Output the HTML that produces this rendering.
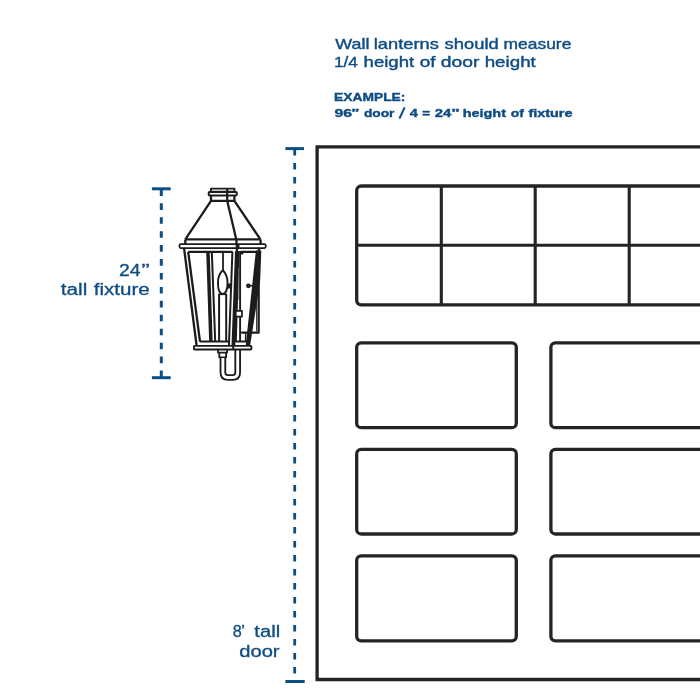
<!DOCTYPE html>
<html>
<head>
<meta charset="utf-8">
<style>
html,body{margin:0;padding:0;background:#fff;width:700px;height:700px;overflow:hidden;}
svg{display:block;will-change:transform;}
text{font-family:"Liberation Sans",sans-serif;}
</style>
</head>
<body>
<svg width="700" height="700" viewBox="0 0 700 700">
<rect width="700" height="700" fill="#fff"/>
<g fill="#0e4c84">
<text x="335.32" y="49.35" font-size="15.0" textLength="34.05" lengthAdjust="spacingAndGlyphs" stroke="#0e4c84" stroke-width="0.4">Wall</text>
<text x="373.77" y="49.35" font-size="15.0" textLength="65.09" lengthAdjust="spacingAndGlyphs" stroke="#0e4c84" stroke-width="0.4">lanterns</text>
<text x="444.59" y="49.35" font-size="15.0" textLength="54.20" lengthAdjust="spacingAndGlyphs" stroke="#0e4c84" stroke-width="0.4">should</text>
<text x="503.64" y="49.35" font-size="15.0" textLength="67.73" lengthAdjust="spacingAndGlyphs" stroke="#0e4c84" stroke-width="0.4">measure</text>
<text x="333.99" y="67.2" font-size="15.0" textLength="23.91" lengthAdjust="spacingAndGlyphs" stroke="#0e4c84" stroke-width="0.4">1/4</text>
<text x="363.61" y="67.2" font-size="15.0" textLength="50.52" lengthAdjust="spacingAndGlyphs" stroke="#0e4c84" stroke-width="0.4">height</text>
<text x="419.71" y="67.2" font-size="15.0" textLength="15.77" lengthAdjust="spacingAndGlyphs" stroke="#0e4c84" stroke-width="0.4">of</text>
<text x="440.89" y="67.2" font-size="15.0" textLength="38.63" lengthAdjust="spacingAndGlyphs" stroke="#0e4c84" stroke-width="0.4">door</text>
<text x="484.70" y="67.2" font-size="15.0" textLength="51.14" lengthAdjust="spacingAndGlyphs" stroke="#0e4c84" stroke-width="0.4">height</text>
<text x="334.08" y="101.4" font-size="11.7" font-weight="bold" textLength="71.35" lengthAdjust="spacingAndGlyphs" stroke="#0e4c84" stroke-width="0.4">EXAMPLE:</text>
<text x="334.45" y="116.8" font-size="11.7" font-weight="bold" textLength="17.51" lengthAdjust="spacingAndGlyphs" stroke="#0e4c84" stroke-width="0.4">96</text>
<text x="351.14" y="116.8" font-size="11.7" font-weight="bold" textLength="8.52" lengthAdjust="spacingAndGlyphs" stroke="#0e4c84" stroke-width="0.4">”</text>
<text x="363.94" y="116.8" font-size="11.7" font-weight="bold" textLength="30.47" lengthAdjust="spacingAndGlyphs" stroke="#0e4c84" stroke-width="0.4">door</text>
<text x="409.88" y="116.8" font-size="11.7" font-weight="bold" textLength="8.10" lengthAdjust="spacingAndGlyphs" stroke="#0e4c84" stroke-width="0.4">4</text>
<text x="422.15" y="116.8" font-size="11.7" font-weight="bold" textLength="7.80" lengthAdjust="spacingAndGlyphs" stroke="#0e4c84" stroke-width="0.4">=</text>
<text x="434.89" y="116.8" font-size="11.7" font-weight="bold" textLength="16.49" lengthAdjust="spacingAndGlyphs" stroke="#0e4c84" stroke-width="0.4">24</text>
<text x="450.98" y="116.8" font-size="11.7" font-weight="bold" textLength="8.95" lengthAdjust="spacingAndGlyphs" stroke="#0e4c84" stroke-width="0.4">”</text>
<text x="462.69" y="116.8" font-size="11.7" font-weight="bold" textLength="43.28" lengthAdjust="spacingAndGlyphs" stroke="#0e4c84" stroke-width="0.4">height</text>
<text x="510.66" y="116.8" font-size="11.7" font-weight="bold" textLength="13.12" lengthAdjust="spacingAndGlyphs" stroke="#0e4c84" stroke-width="0.4">of</text>
<text x="528.45" y="116.8" font-size="11.7" font-weight="bold" textLength="44.04" lengthAdjust="spacingAndGlyphs" stroke="#0e4c84" stroke-width="0.4">fixture</text>
<text x="119.08" y="275.7" font-size="16.0" textLength="21.54" lengthAdjust="spacingAndGlyphs" stroke="#0e4c84" stroke-width="0.3">24</text>
<text x="141.22" y="275.7" font-size="16.0" textLength="8.46" lengthAdjust="spacingAndGlyphs" stroke="#0e4c84" stroke-width="0.3">”</text>
<text x="60.84" y="295.4" font-size="16.0" textLength="26.50" lengthAdjust="spacingAndGlyphs" stroke="#0e4c84" stroke-width="0.3">tall</text>
<text x="93.76" y="295.4" font-size="16.0" textLength="56.01" lengthAdjust="spacingAndGlyphs" stroke="#0e4c84" stroke-width="0.3">fixture</text>
<text x="232.85" y="636.6" font-size="16.0" textLength="9.01" lengthAdjust="spacingAndGlyphs" stroke="#0e4c84" stroke-width="0.3">8</text>
<text x="241.11" y="636.6" font-size="16.0" textLength="4.07" lengthAdjust="spacingAndGlyphs" stroke="#0e4c84" stroke-width="0.3">’</text>
<text x="254.34" y="636.6" font-size="16.0" textLength="25.86" lengthAdjust="spacingAndGlyphs" stroke="#0e4c84" stroke-width="0.3">tall</text>
<text x="239.30" y="656.5" font-size="16.0" textLength="40.28" lengthAdjust="spacingAndGlyphs" stroke="#0e4c84" stroke-width="0.3">door</text>
<path d="M399.4 118.6 L404.6 107.4" stroke="#0e4c84" stroke-width="2.1" fill="none"/>
</g>
<g stroke="#0b4f87" fill="none">
<line x1="294.7" y1="148.9" x2="294.7" y2="681" stroke-width="2.8" stroke-dasharray="6.7 7.3"/>
<line x1="285.4" y1="148.6" x2="304" y2="148.6" stroke-width="3"/>
<line x1="285.4" y1="681.5" x2="304.7" y2="681.5" stroke-width="3"/>
<line x1="161.3" y1="189.4" x2="161.3" y2="377" stroke-width="3" stroke-dasharray="6.6 7.33"/>
<line x1="151.9" y1="188.8" x2="170.7" y2="188.8" stroke-width="3"/>
<line x1="151.9" y1="377.7" x2="170.7" y2="377.7" stroke-width="3"/>
</g>
<g stroke="#242424" fill="none" stroke-width="3.3">
<path d="M720 146.9 H317.1 V679.5 H720"/>
<rect x="356.7" y="186" width="400" height="118.8" rx="4.5"/>
<path d="M356.7 245.3 H720 M441.3 186 V304.8 M535.2 186 V304.8 M629.2 186 V304.8" stroke-width="3.1"/>
<rect x="356.7" y="342.8" width="159.6" height="84.9" rx="4.5"/>
<rect x="550.9" y="342.8" width="300" height="84.9" rx="4.5"/>
<rect x="356.7" y="449.4" width="159.6" height="84.6" rx="4.5"/>
<rect x="550.9" y="449.4" width="300" height="84.6" rx="4.5"/>
<rect x="356.7" y="555.8" width="159.6" height="85" rx="4.5"/>
<rect x="550.9" y="555.8" width="300" height="85" rx="4.5"/>
</g>
<g id="lantern" stroke="#1c1c1c" fill="none" stroke-width="2.3" stroke-linejoin="round">
<!-- cap -->
<rect x="211" y="188.6" width="23.4" height="3" stroke-width="1.9"/>
<rect x="208.7" y="192.1" width="28.1" height="3.3" rx="0.8" fill="#fff" stroke-width="2"/>
<path d="M211 195.6 V200.8 H234.4 V195.6"/>
<path d="M227.2 188.5 V200.8"/>
<!-- roof -->
<path d="M211 200.8 L185.3 239.4 M227.2 200.8 L236.3 239.4 M234.4 200.8 L260.4 239.4"/>
<path d="M185.3 239.4 H260.6 M185.3 239.4 V244 M260.6 239.4 V244 M236.5 239.4 V244"/>
<!-- flange -->
<rect x="179.5" y="244" width="86.2" height="4" rx="1.2" stroke-width="1.75"/>
<path d="M238.3 244 V248"/>
<!-- rail -->
<path d="M188.3 251.8 H232.6 M240.9 251.8 H259 V247.8"/>
<path d="M241 251.8 V253.6 H243.2" stroke-width="1.6"/>
<!-- left posts -->
<path d="M184 247.8 L196.6 345.5 M188.2 251.8 L200 341.6"/>
<!-- inner left frame -->
<path d="M207.95 251.5 L210.9 341.3" stroke-width="3.5"/>
<path d="M211.8 251.5 L215.2 341.3" stroke-width="2"/>
<!-- wick, flame, candle -->
<path d="M223 251.8 V270.5" stroke-width="1.8"/>
<path d="M222.8 270.2 C219.7 273,217.95 277.5,217.95 282.8 C217.95 289.5,219.9 293.9,222.8 293.9 C225.6 293.9,227.55 289.5,227.55 282.8 C227.55 277.5,225.8 273,222.8 270.2 Z" stroke-width="1.9"/>
<path d="M219.1 293.8 V341.3 M226.2 293.8 V341.3" stroke-width="2"/>
<path d="M219.1 294.3 H226.2" stroke-width="1.6"/>
<rect x="227.6" y="283.5" width="3.4" height="5" fill="#1c1c1c" stroke="none"/>
<!-- inner right frame -->
<path d="M232.4 251.8 L228.95 345.5" stroke-width="2"/>
<!-- corner post -->
<polygon points="235,251 239.4,251 236.8,341.3 235.3,341.3 235.3,345.5 231.5,345.5" fill="#1c1c1c" stroke="none"/>
<path d="M238.4 268 V300" stroke="#6a6a6a" stroke-width="0.7"/>
<path d="M236.9 244 L236.9 252" stroke-width="2.4"/>
<path d="M240.1 251 V341.3" stroke-width="1.9"/>
<!-- latch -->
<rect x="235.8" y="310.9" width="6.2" height="5.8" fill="#fff" stroke-width="1.7"/>
<!-- side face: right post + backplate -->
<path d="M258.75 280 V332.6 H241.2" stroke-width="2.1"/>
<path d="M256.75 286 V331.6" stroke-width="1.3" stroke="#2a2a2a"/>
<polygon points="255.9,250.5 261.3,250.5 260.2,280 257.9,296 256.3,306 250.1,345.5 245.75,345.5" fill="#1c1c1c" stroke="none"/>
<circle cx="248.4" cy="285.8" r="1.3" stroke-width="2.2"/>
<path d="M250.2 285.7 H253" stroke-width="1.6"/>
<path d="M245.6 333 V341.3" stroke-width="1.4"/>
<!-- bottom rails -->
<path d="M199.8 341.5 H229 M234.8 341.5 H247.2 V346" stroke-width="2.1"/>
<rect x="193.9" y="345.9" width="57.5" height="3.6" rx="0.8" stroke-width="1.9"/>
<path d="M233.2 345.9 V349.5" stroke-width="2"/>
<!-- finial -->
<path d="M218 349.6 V352.6 H227.1 V349.6" stroke-width="1.8"/>
<path d="M219.3 352.6 V357.3 H226.1 V352.6" stroke-width="1.8"/>
<!-- U arm -->
<path d="M222.9 357 V372.5 Q222.9 377.55, 227.9 377.55 H232.7 Q237.7 377.55, 237.7 372.5 V349.6" stroke-width="6.6"/>
<path d="M222.9 358 V372.5 Q222.9 377.55, 227.9 377.55 H232.7 Q237.7 377.55, 237.7 372.5 V350.6" stroke-width="2.9" stroke="#fff"/>
</g>
</svg>
</body>
</html>
